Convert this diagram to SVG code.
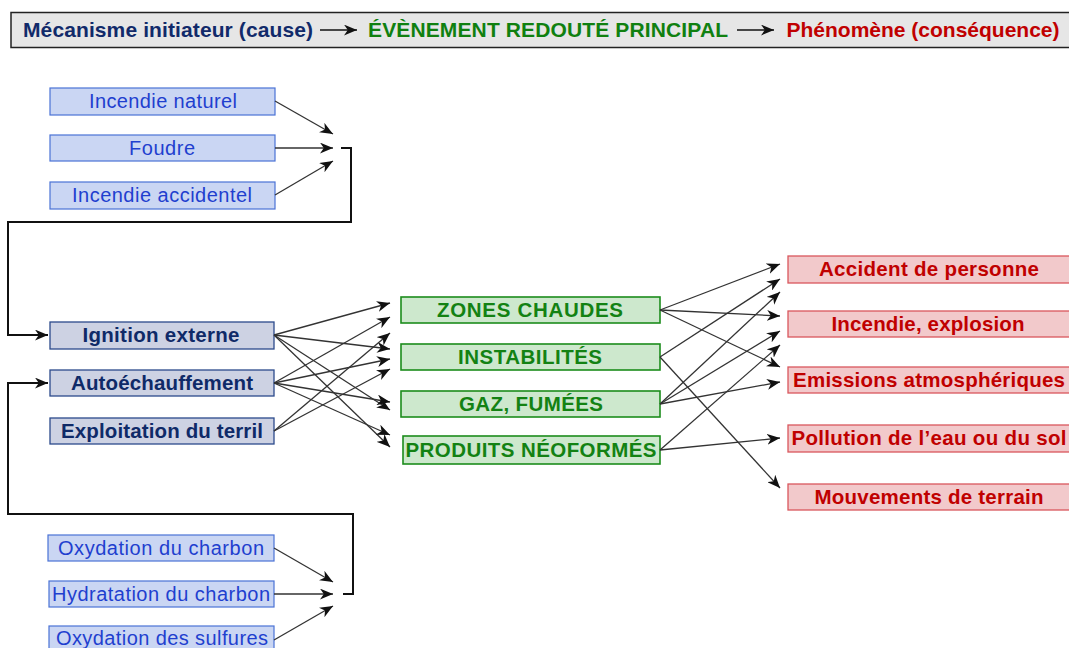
<svg xmlns="http://www.w3.org/2000/svg" width="1069" height="648" viewBox="0 0 1069 648">
<style>
text{font-family:"Liberation Sans",Arial,sans-serif;font-size:20px;text-anchor:middle}
.b{font-weight:bold;font-size:21px}
.hdr{fill:#e6e6e6;stroke:#222;stroke-width:1.5}
.src rect{fill:#cad6f3;stroke:#4a72d6;stroke-width:1.2}
.src text{fill:#1f3fcf}
.mec rect{fill:#cdd2e3;stroke:#2b4a8c;stroke-width:1.3}
.mec text{fill:#0f2a68;font-weight:bold;font-size:20.5px}
.evt rect{fill:#cde8cd;stroke:#1c8c1c;stroke-width:1.6}
.evt text{fill:#138213;font-weight:bold;font-size:20.5px}
.con rect{fill:#f2c9cb;stroke:#d9575d;stroke-width:1.3}
.con text{fill:#c00000;font-weight:bold;font-size:20.5px}
.ln{stroke:#333;stroke-width:1.3;fill:none;marker-end:url(#ah)}
.br{stroke:#111;stroke-width:2;fill:none}
</style>
<defs>
<marker id="ah" viewBox="0 0 12 10" refX="12" refY="5" markerUnits="userSpaceOnUse" markerWidth="13" markerHeight="11" orient="auto">
<path d="M0,0 L12,5 L0,10 L3.5,5 z" fill="#111"/>
</marker>
</defs>

<g id="header">
<rect class="hdr" x="11" y="12.5" width="1065" height="35"/>
<text class="b" x="168" y="37" fill="#112a6a" textLength="290">Mécanisme  initiateur  (cause)</text>
<text class="b" x="548" y="37" fill="#108010" textLength="360">ÉVÈNEMENT REDOUTÉ PRINCIPAL</text>
<text class="b" x="923" y="37" fill="#c00000" textLength="273">Phénomène  (conséquence)</text>
<line x1="320" y1="30" x2="357" y2="30" stroke="#111" stroke-width="1.3" marker-end="url(#ah)"/>
<line x1="737" y1="30" x2="774" y2="30" stroke="#111" stroke-width="1.3" marker-end="url(#ah)"/>
</g>

<g id="incendie-naturel" class="src"><rect x="50" y="88" width="225" height="27"/><text x="163" y="108" textLength="148">Incendie  naturel</text></g>
<g id="foudre" class="src"><rect x="50" y="135" width="225" height="26"/><text x="162" y="155" textLength="66">Foudre</text></g>
<g id="incendie-accidentel" class="src"><rect x="50" y="182" width="225" height="27"/><text x="162" y="202" textLength="180">Incendie  accidentel</text></g>

<g id="ignition" class="mec"><rect x="50" y="322" width="224" height="27"/><text x="161" y="342" textLength="157">Ignition  externe</text></g>
<g id="autoechauffement" class="mec"><rect x="50" y="370" width="224" height="26"/><text x="162" y="390" textLength="182">Autoéchauffement</text></g>
<g id="exploitation" class="mec"><rect x="50" y="418" width="224" height="26"/><text x="162" y="438" textLength="202">Exploitation  du terril</text></g>

<g id="oxydation-charbon" class="src"><rect x="48" y="535" width="226" height="26"/><text x="161" y="555" textLength="206">Oxydation du charbon</text></g>
<g id="hydratation" class="src"><rect x="49" y="581" width="225" height="26"/><text x="161" y="601" textLength="218">Hydratation du charbon</text></g>
<g id="oxydation-sulfures" class="src"><rect x="49" y="626" width="225" height="30"/><text x="162" y="645" textLength="212">Oxydation des sulfures</text></g>

<g id="zones-chaudes" class="evt"><rect x="401" y="297" width="259" height="26"/><text x="530" y="317" textLength="186">ZONES CHAUDES</text></g>
<g id="instabilites" class="evt"><rect x="401" y="344" width="259" height="26"/><text x="530" y="364" textLength="144">INSTABILITÉS</text></g>
<g id="gaz-fumees" class="evt"><rect x="401" y="391" width="259" height="26"/><text x="531" y="411" textLength="144">GAZ,  FUMÉES</text></g>
<g id="produits" class="evt"><rect x="403" y="436" width="257" height="28"/><text x="531" y="457" textLength="251">PRODUITS NÉOFORMÉS</text></g>

<g id="accident" class="con"><rect x="788" y="256" width="290" height="27"/><text x="929" y="276" textLength="220">Accident  de  personne</text></g>
<g id="incendie-explosion" class="con"><rect x="788" y="311" width="290" height="26"/><text x="928" y="331" textLength="193">Incendie,  explosion</text></g>
<g id="emissions" class="con"><rect x="788" y="367" width="290" height="26"/><text x="929" y="387" textLength="272">Emissions  atmosphériques</text></g>
<g id="pollution" class="con"><rect x="788" y="425" width="290" height="27"/><text x="929" y="445" textLength="275">Pollution  de l’eau ou du sol</text></g>
<g id="mouvements" class="con"><rect x="788" y="484" width="290" height="26"/><text x="929" y="504" textLength="229">Mouvements  de terrain</text></g>

<g id="connectors">
<line class="ln" x1="275" y1="101" x2="333" y2="134"/>
<line class="ln" x1="275" y1="148" x2="333" y2="148"/>
<line class="ln" x1="275" y1="195" x2="333" y2="161"/>
<polyline class="br" points="341,148 351,148 351,222 8,222 8,335 48,335" marker-end="url(#ah)"/>

<line class="ln" x1="274" y1="548" x2="333" y2="582"/>
<line class="ln" x1="274" y1="594" x2="333" y2="594"/>
<line class="ln" x1="274" y1="640" x2="333" y2="606"/>
<polyline class="br" points="343,594 353,594 353,514 8,514 8,383 48,383" marker-end="url(#ah)"/>

<line class="ln" x1="274" y1="335" x2="390" y2="303"/>
<line class="ln" x1="274" y1="335" x2="390" y2="349"/>
<line class="ln" x1="274" y1="335" x2="390" y2="410"/>
<line class="ln" x1="274" y1="335" x2="390" y2="447"/>
<line class="ln" x1="274" y1="383" x2="390" y2="317"/>
<line class="ln" x1="274" y1="383" x2="390" y2="359"/>
<line class="ln" x1="274" y1="383" x2="390" y2="402"/>
<line class="ln" x1="274" y1="383" x2="390" y2="435"/>
<line class="ln" x1="274" y1="431" x2="390" y2="333"/>
<line class="ln" x1="274" y1="431" x2="390" y2="369"/>

<line class="ln" x1="660" y1="310" x2="780" y2="264"/>
<line class="ln" x1="660" y1="310" x2="780" y2="316"/>
<line class="ln" x1="660" y1="310" x2="780" y2="367"/>
<line class="ln" x1="660" y1="357" x2="780" y2="279"/>
<line class="ln" x1="660" y1="357" x2="780" y2="488"/>
<line class="ln" x1="660" y1="404" x2="780" y2="292"/>
<line class="ln" x1="660" y1="404" x2="780" y2="331"/>
<line class="ln" x1="660" y1="404" x2="780" y2="382"/>
<line class="ln" x1="660" y1="450" x2="780" y2="345"/>
<line class="ln" x1="660" y1="450" x2="780" y2="438"/>
</g>
</svg>
